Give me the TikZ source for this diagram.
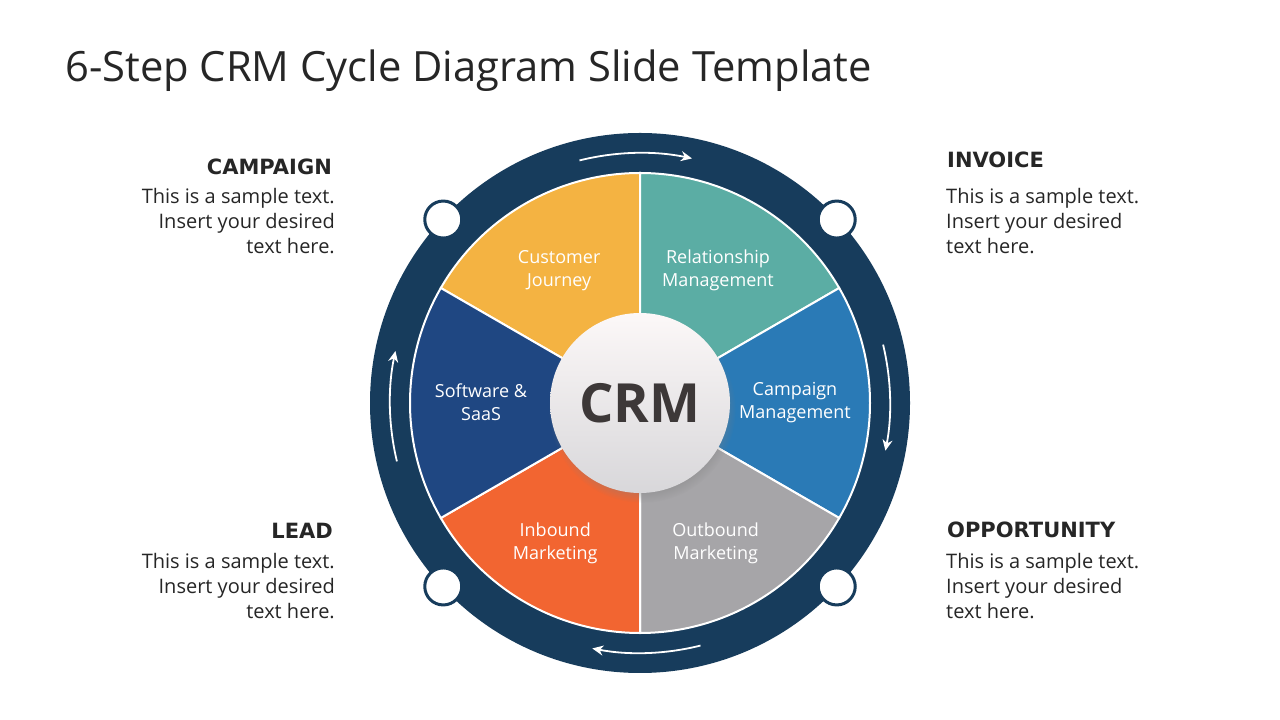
\documentclass[tikz,border=0pt]{standalone}
\usepackage{fontspec}
\setmainfont{Open Sans}
\newfontfamily\headfont{DejaVu Sans}
\usetikzlibrary{arrows.meta, shadows}
\definecolor{ringblue}{HTML}{173C5C}
\definecolor{cjyellow}{HTML}{F4B342}
\definecolor{rmteal}{HTML}{5BADA4}
\definecolor{cmblue}{HTML}{2A7AB6}
\definecolor{omgray}{HTML}{A6A5A8}
\definecolor{imorange}{HTML}{F26531}
\definecolor{ssblue}{HTML}{1F4782}
\definecolor{crmgray}{HTML}{3D3838}
\definecolor{textdark}{HTML}{262626}
\definecolor{disctop}{HTML}{FCF8F8}
\definecolor{discbottom}{HTML}{D8D7DA}
\tikzset{
	wedge/.style={draw=white, line width=2pt}, % Sectores del ciclo
	steplabel/.style={text=white, align=center, yshift=-2pt, font=\fontsize{18}{23}\selectfont},
	sidehead/.style={inner sep=0, text=textdark, font=\headfont\bfseries\fontsize{21}{24}\selectfont},
	sidetext/.style={inner sep=0, text=textdark, font=\fontsize{20}{25}\selectfont},
	cyclearrow/.style={draw=white, line width=1.8pt, -{Stealth[length=11pt, width=10pt]}},
	knob/.style={circle, draw=ringblue, line width=3pt, fill=white, minimum size=37pt, inner sep=0},
	crmdisc/.style={circle, minimum size=180pt, inner sep=0, top color=disctop, bottom color=discbottom,
		circular drop shadow={shadow xshift=2pt, shadow yshift=-6pt, shadow scale=1.04, opacity=.45},
		text=crmgray, font=\bfseries\fontsize{54}{60}\selectfont}
}
\begin{document}
\begin{tikzpicture}[x=1pt, y=1pt]
	\useasboundingbox (0,0) rectangle (1280,720);
	\fill[white] (0,0) rectangle (1280,720);
	\node[anchor=base west, inner sep=0, text=textdark, font=\fontsize{41.7}{48}\selectfont] (title) at (65,638) {6-Step CRM Cycle Diagram Slide Template};
	% Anillo exterior y sectores
	\coordinate (c) at (640,317);
	\fill[ringblue] (c) circle[radius=270];
	\filldraw[wedge, fill=cjyellow] (c) -- ([shift={(90:230)}]c) arc[start angle=90, end angle=150, radius=230] -- cycle;
	\filldraw[wedge, fill=rmteal] (c) -- ([shift={(30:230)}]c) arc[start angle=30, end angle=90, radius=230] -- cycle;
	\filldraw[wedge, fill=cmblue] (c) -- ([shift={(-30:230)}]c) arc[start angle=-30, end angle=30, radius=230] -- cycle;
	\filldraw[wedge, fill=omgray] (c) -- ([shift={(-90:230)}]c) arc[start angle=-90, end angle=-30, radius=230] -- cycle;
	\filldraw[wedge, fill=imorange] (c) -- ([shift={(210:230)}]c) arc[start angle=210, end angle=270, radius=230] -- cycle;
	\filldraw[wedge, fill=ssblue] (c) -- ([shift={(150:230)}]c) arc[start angle=150, end angle=210, radius=230] -- cycle;
	\node[steplabel] (cj) at ([shift={(121:157)}]c) {Customer\\Journey};
	\node[steplabel] (rm) at ([shift={(60:156)}]c) {Relationship\\Management};
	\node[steplabel] (cm) at ([shift={(1:155)}]c) {Campaign\\Management};
	\node[steplabel, yshift=-2pt] (om) at ([shift={(-61:156)}]c) {Outbound\\Marketing};
	\node[steplabel, yshift=-3pt] (im) at ([shift={(238:160)}]c) {Inbound\\Marketing};
	\node[steplabel] (ss) at ([shift={(179:159)}]c) {Software \&\\SaaS};
	\node[crmdisc] (crm) at (c) {CRM};
	% Flechas del ciclo
	\draw[cyclearrow] ([shift={(104:250)}]c) arc[start angle=104, end angle=78, radius=250];
	\draw[cyclearrow] ([shift={(13.5:250)}]c) arc[start angle=13.5, end angle=-11, radius=250];
	\draw[cyclearrow] ([shift={(-76:250)}]c) arc[start angle=-76, end angle=-101, radius=250];
	\draw[cyclearrow] ([shift={(193.5:250)}]c) arc[start angle=193.5, end angle=168, radius=250];
	\node[knob] (k1) at ([shift={(137:269)}]c) {};
	\node[knob] (k2) at ([shift={(43:269)}]c) {};
	\node[knob] (k3) at ([shift={(223:269)}]c) {};
	\node[knob] (k4) at ([shift={(317:269)}]c) {};
	% Textos laterales
	\node[sidehead, anchor=base east] (campaign) at (332,545) {CAMPAIGN};
	\node[sidetext, align=right, anchor=north east] (campaigntext) at (335,532) {This is a sample text.\\Insert your desired\\text here.};
	\node[sidehead, anchor=base west] (invoice) at (947,552) {INVOICE};
	\node[sidetext, align=left, anchor=north west] (invoicetext) at (946,532) {This is a sample text.\\Insert your desired\\text here.};
	\node[sidehead, anchor=base east] (lead) at (333,181) {LEAD};
	\node[sidetext, align=right, anchor=north east] (leadtext) at (335,167) {This is a sample text.\\Insert your desired\\text here.};
	\node[sidehead, anchor=base west] (opportunity) at (947,182) {OPPORTUNITY};
	\node[sidetext, align=left, anchor=north west] (opportunitytext) at (946,167) {This is a sample text.\\Insert your desired\\text here.};
\end{tikzpicture}
\end{document}
